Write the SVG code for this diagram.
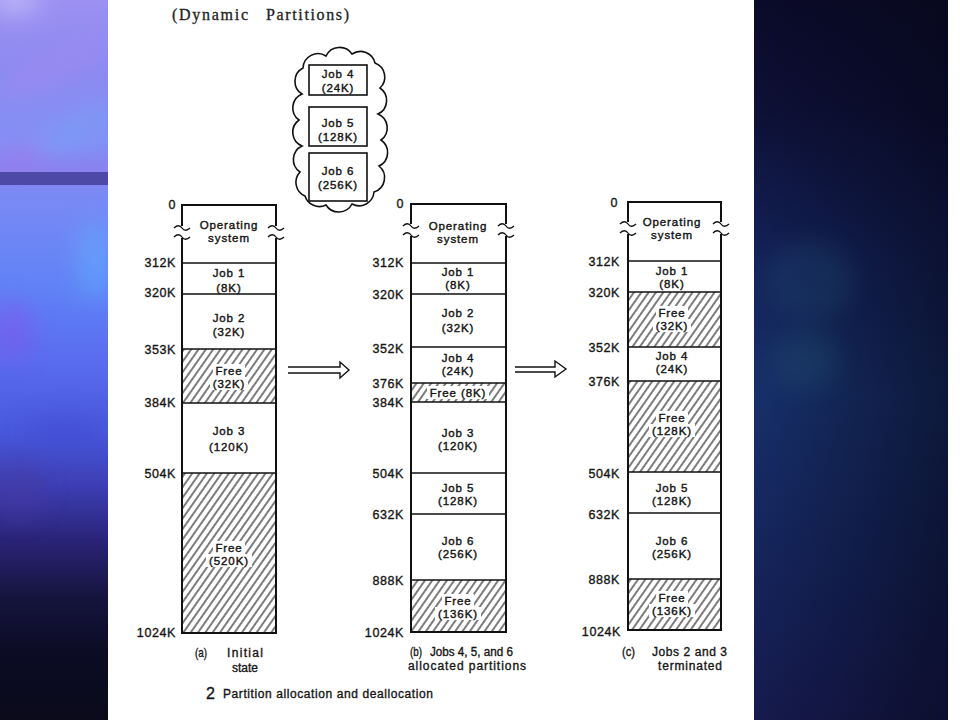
<svg xmlns="http://www.w3.org/2000/svg" width="960" height="720" viewBox="0 0 960 720">
<style>
.edge{fill:none;stroke:#111;stroke-width:2}
.part{fill:none;stroke:#111;stroke-width:1.5}
.brk{fill:none;stroke:#111;stroke-width:1.3}
.box{fill:#fff;stroke:#111;stroke-width:1.6}
.t{font-family:"Liberation Sans",Arial,sans-serif;font-size:11.5px;letter-spacing:0.9px;fill:#151515;stroke:#151515;stroke-width:0.4;text-anchor:middle}
.l{font-family:"Liberation Sans",Arial,sans-serif;font-size:12.5px;letter-spacing:0.6px;fill:#151515;stroke:#151515;stroke-width:0.35;text-anchor:end}
.c{font-family:"Liberation Sans",Arial,sans-serif;font-size:12px;fill:#151515;stroke:#151515;stroke-width:0.35}
.ttl{font-family:"Liberation Serif","Times New Roman",serif;font-size:16px;fill:#222;stroke:#222;stroke-width:0.3}
.hb{fill:#fff}
.ar{fill:#fff;stroke:#111;stroke-width:1.4}
</style>
<defs>
<pattern id="hatch" width="6" height="10" patternUnits="userSpaceOnUse" patternTransform="rotate(35)">
<rect width="6" height="10" fill="#fff"/>
<line x1="3" y1="0" x2="3" y2="10" stroke="#111" stroke-width="1.1"/>
</pattern>
<linearGradient id="lg" x1="0" y1="0" x2="0" y2="1">
<stop offset="0" stop-color="#9c90f2"/>
<stop offset="0.1" stop-color="#8c8af0"/>
<stop offset="0.2" stop-color="#8290f4"/>
<stop offset="0.24" stop-color="#8a80ee"/>
<stop offset="0.27" stop-color="#7a8af4"/>
<stop offset="0.4" stop-color="#6082f6"/>
<stop offset="0.5" stop-color="#5a6cf0"/>
<stop offset="0.6" stop-color="#4858dc"/>
<stop offset="0.68" stop-color="#3c3cb0"/>
<stop offset="0.75" stop-color="#2a2478"/>
<stop offset="0.83" stop-color="#16143e"/>
<stop offset="0.9" stop-color="#0c0c26"/>
<stop offset="1" stop-color="#0a0a1a"/>
</linearGradient>
<linearGradient id="rg" x1="0" y1="0" x2="0" y2="1">
<stop offset="0" stop-color="#0b0b2a"/>
<stop offset="0.15" stop-color="#0d1036"/>
<stop offset="0.35" stop-color="#132158"/>
<stop offset="0.55" stop-color="#17306a"/>
<stop offset="0.75" stop-color="#15265e"/>
<stop offset="1" stop-color="#161a4e"/>
</linearGradient>
<linearGradient id="rh" x1="0" y1="0" x2="1" y2="0">
<stop offset="0" stop-color="#050514" stop-opacity="0"/>
<stop offset="1" stop-color="#050514" stop-opacity="0.55"/>
</linearGradient>
<filter id="blur" x="-100%" y="-100%" width="300%" height="300%"><feGaussianBlur stdDeviation="12"/></filter>
<clipPath id="clipL"><rect x="0" y="0" width="108" height="720"/></clipPath>
<clipPath id="clipR"><rect x="754" y="0" width="194" height="720"/></clipPath>
</defs>

<!-- background panels -->
<rect x="0" y="0" width="960" height="720" fill="#fff"/>
<g id="left-panel" clip-path="url(#clipL)">
<rect x="0" y="0" width="108" height="720" fill="url(#lg)"/>
<g filter="url(#blur)" opacity="0.45">
<ellipse cx="15" cy="0" rx="25" ry="14" fill="#e8e4ff"/>
<ellipse cx="50" cy="70" rx="55" ry="10" fill="#b08af2" transform="rotate(-25 50 70)"/>
<ellipse cx="75" cy="130" rx="45" ry="9" fill="#70b0fa" transform="rotate(-30 75 130)"/>
<ellipse cx="20" cy="155" rx="30" ry="10" fill="#b070e8"/>
<ellipse cx="95" cy="260" rx="18" ry="40" fill="#60b8ff"/>
<ellipse cx="12" cy="330" rx="22" ry="30" fill="#8a50e8"/>
<ellipse cx="65" cy="430" rx="40" ry="15" fill="#3e46d0"/>
<ellipse cx="20" cy="490" rx="25" ry="30" fill="#4a3aa0"/>
</g>
<rect x="0" y="172" width="108" height="13" fill="#4c4aa6"/>
</g>
<g id="right-panel" clip-path="url(#clipR)">
<rect x="754" y="0" width="194" height="720" fill="url(#rg)"/>
<rect x="754" y="0" width="194" height="720" fill="url(#rh)"/>
<g filter="url(#blur)" opacity="0.18">
<ellipse cx="810" cy="280" rx="45" ry="40" fill="#2a6a8a"/>
<ellipse cx="805" cy="360" rx="35" ry="30" fill="#2a7a8a"/>
</g>
<rect x="948" y="0" width="12" height="720" fill="#040a04"/>
</g>

<!-- title -->
<text class="ttl" x="172" y="20" textLength="76" lengthAdjust="spacing">(Dynamic</text>
<text class="ttl" x="266" y="20" textLength="83" lengthAdjust="spacing">Partitions)</text>

<!-- cloud of waiting jobs -->
<g id="cloud">
<path class="box" d="M303,68 A15,15 0 0 1 326,56 A15,15 0 0 1 352,54 A15,15 0 0 1 375,63 A15,15 0 0 1 380,88 A15,15 0 0 1 378,114 A15,15 0 0 1 381,140 A15,15 0 0 1 379,166 A15,15 0 0 1 374,192 A15,15 0 0 1 352,204 A15,15 0 0 1 326,205 A15,15 0 0 1 305,196 A15,15 0 0 1 300,172 A15,15 0 0 1 302,146 A15,15 0 0 1 299,120 A15,15 0 0 1 302,94 A15,15 0 0 1 303,68 Z"/>
<g id="job4">
<rect class="box" x="309" y="65" width="58" height="30"/>
<text class="t"><tspan x="338" y="77.5">Job 4</tspan><tspan x="338" y="91.5">(24K)</tspan></text>
</g>
<g id="job5">
<rect class="box" x="309" y="107" width="58" height="39"/>
<text class="t"><tspan x="338" y="126.5">Job 5</tspan><tspan x="338" y="140.5">(128K)</tspan></text>
</g>
<g id="job6">
<rect class="box" x="309" y="153" width="58" height="48"/>
<text class="t"><tspan x="338" y="175">Job 6</tspan><tspan x="338" y="189">(256K)</tspan></text>
</g>
</g>

<!-- column (a) -->
<g id="col-a">
<rect x="182" y="349" width="94" height="54" fill="url(#hatch)"/>
<rect x="182" y="473" width="94" height="160" fill="url(#hatch)"/>
<path class="part" d="M182,263H276 M182,294H276 M182,349H276 M182,403H276 M182,473H276"/>
<path class="edge" d="M182,226V205H276V226 M182,238V633H276V238"/>
<path class="brk" d="M174,228c3,-3 6,-3 8,0s5,3 8,0 M174,237c3,-3 6,-3 8,0s5,3 8,0 M268,228c3,-3 6,-3 8,0s5,3 8,0 M268,237c3,-3 6,-3 8,0s5,3 8,0"/>
<rect class="hb" x="213" y="364" width="32" height="13"/>
<rect class="hb" x="210" y="377" width="38" height="13"/>
<rect class="hb" x="213" y="541" width="32" height="13"/>
<rect class="hb" x="206" y="554" width="46" height="13"/>
<text class="t"><tspan x="229" y="228.5">Operating</tspan><tspan x="229" y="241.5">system</tspan></text>
<text class="t"><tspan x="229" y="276.5">Job 1</tspan><tspan x="229" y="291.5">(8K)</tspan></text>
<text class="t"><tspan x="229" y="321.5">Job 2</tspan><tspan x="229" y="335.5">(32K)</tspan></text>
<text class="t"><tspan x="229" y="374.5">Free</tspan><tspan x="229" y="387.5">(32K)</tspan></text>
<text class="t"><tspan x="229" y="434.5">Job 3</tspan><tspan x="229" y="450.5">(120K)</tspan></text>
<text class="t"><tspan x="229" y="551.5">Free</tspan><tspan x="229" y="564.5">(520K)</tspan></text>
<text class="l" x="176" y="209">0</text>
<text class="l" x="176" y="266.5">312K</text>
<text class="l" x="176" y="296.5">320K</text>
<text class="l" x="176" y="353.5">353K</text>
<text class="l" x="176" y="406.5">384K</text>
<text class="l" x="176" y="477.5">504K</text>
<text class="l" x="176" y="636.5">1024K</text>
<text class="c" x="195" y="657" textLength="12" lengthAdjust="spacingAndGlyphs">(a)</text>
<text class="c"><tspan x="227" y="657" textLength="36" lengthAdjust="spacing">Initial</tspan><tspan x="232" y="672" textLength="26" lengthAdjust="spacing">state</tspan></text>
</g>

<!-- column (b) -->
<g id="col-b">
<rect x="411" y="383" width="95" height="19" fill="url(#hatch)"/>
<rect x="411" y="580" width="95" height="52" fill="url(#hatch)"/>
<path class="part" d="M411,263H506 M411,294H506 M411,347H506 M411,383H506 M411,402H506 M411,473H506 M411,514H506 M411,580H506"/>
<path class="edge" d="M411,224V204H506V224 M411,236V632H506V236"/>
<path class="brk" d="M403,226c3,-3 6,-3 8,0s5,3 8,0 M403,235c3,-3 6,-3 8,0s5,3 8,0 M498,226c3,-3 6,-3 8,0s5,3 8,0 M498,235c3,-3 6,-3 8,0s5,3 8,0"/>
<rect class="hb" x="427" y="386" width="62" height="13"/>
<rect class="hb" x="442" y="594" width="32" height="13"/>
<rect class="hb" x="435" y="607" width="46" height="13"/>
<text class="t"><tspan x="458" y="229.5">Operating</tspan><tspan x="458" y="242.5">system</tspan></text>
<text class="t"><tspan x="458" y="275.5">Job 1</tspan><tspan x="458" y="288.5">(8K)</tspan></text>
<text class="t"><tspan x="458" y="316.5">Job 2</tspan><tspan x="458" y="331.5">(32K)</tspan></text>
<text class="t"><tspan x="458" y="361.5">Job 4</tspan><tspan x="458" y="374.5">(24K)</tspan></text>
<text class="t" x="458" y="396.5">Free (8K)</text>
<text class="t"><tspan x="458" y="436.5">Job 3</tspan><tspan x="458" y="449.5">(120K)</tspan></text>
<text class="t"><tspan x="458" y="491.5">Job 5</tspan><tspan x="458" y="504.5">(128K)</tspan></text>
<text class="t"><tspan x="458" y="544.5">Job 6</tspan><tspan x="458" y="557.5">(256K)</tspan></text>
<text class="t"><tspan x="458" y="604.5">Free</tspan><tspan x="458" y="617.5">(136K)</tspan></text>
<text class="l" x="404" y="208">0</text>
<text class="l" x="404" y="266.5">312K</text>
<text class="l" x="404" y="298.5">320K</text>
<text class="l" x="404" y="352.5">352K</text>
<text class="l" x="404" y="387.5">376K</text>
<text class="l" x="404" y="406.5">384K</text>
<text class="l" x="404" y="477.5">504K</text>
<text class="l" x="404" y="518.5">632K</text>
<text class="l" x="404" y="584.5">888K</text>
<text class="l" x="404" y="637">1024K</text>
<text class="c" x="410" y="656" textLength="12" lengthAdjust="spacingAndGlyphs">(b)</text>
<text class="c"><tspan x="430" y="656" textLength="83" lengthAdjust="spacingAndGlyphs">Jobs 4, 5, and 6</tspan><tspan x="408" y="670" textLength="118" lengthAdjust="spacing">allocated partitions</tspan></text>
</g>

<!-- column (c) -->
<g id="col-c">
<rect x="628" y="292" width="93" height="55" fill="url(#hatch)"/>
<rect x="628" y="381" width="93" height="91" fill="url(#hatch)"/>
<rect x="628" y="579" width="93" height="51" fill="url(#hatch)"/>
<path class="part" d="M628,261H721 M628,292H721 M628,347H721 M628,381H721 M628,472H721 M628,513H721 M628,579H721"/>
<path class="edge" d="M628,222V202H721V222 M628,234V630H721V234"/>
<path class="brk" d="M620,224c3,-3 6,-3 8,0s5,3 8,0 M620,233c3,-3 6,-3 8,0s5,3 8,0 M713,224c3,-3 6,-3 8,0s5,3 8,0 M713,233c3,-3 6,-3 8,0s5,3 8,0"/>
<rect class="hb" x="656" y="306" width="32" height="13"/>
<rect class="hb" x="653" y="319" width="38" height="13"/>
<rect class="hb" x="656" y="411" width="32" height="13"/>
<rect class="hb" x="649" y="424" width="46" height="13"/>
<rect class="hb" x="656" y="591" width="32" height="13"/>
<rect class="hb" x="649" y="604" width="46" height="13"/>
<text class="t"><tspan x="672" y="225.5">Operating</tspan><tspan x="672" y="238.5">system</tspan></text>
<text class="t"><tspan x="672" y="274.5">Job 1</tspan><tspan x="672" y="287.5">(8K)</tspan></text>
<text class="t"><tspan x="672" y="316.5">Free</tspan><tspan x="672" y="329.5">(32K)</tspan></text>
<text class="t"><tspan x="672" y="359.5">Job 4</tspan><tspan x="672" y="372.5">(24K)</tspan></text>
<text class="t"><tspan x="672" y="421.5">Free</tspan><tspan x="672" y="434.5">(128K)</tspan></text>
<text class="t"><tspan x="672" y="491.5">Job 5</tspan><tspan x="672" y="504.5">(128K)</tspan></text>
<text class="t"><tspan x="672" y="544.5">Job 6</tspan><tspan x="672" y="557.5">(256K)</tspan></text>
<text class="t"><tspan x="672" y="601.5">Free</tspan><tspan x="672" y="614.5">(136K)</tspan></text>
<text class="l" x="618" y="207">0</text>
<text class="l" x="620" y="265.5">312K</text>
<text class="l" x="620" y="296.5">320K</text>
<text class="l" x="620" y="351.5">352K</text>
<text class="l" x="620" y="385.5">376K</text>
<text class="l" x="620" y="477.5">504K</text>
<text class="l" x="620" y="518.5">632K</text>
<text class="l" x="620" y="583.5">888K</text>
<text class="l" x="621" y="635.5">1024K</text>
<text class="c" x="622" y="656" textLength="13" lengthAdjust="spacingAndGlyphs">(c)</text>
<text class="c"><tspan x="652" y="656" textLength="75" lengthAdjust="spacing">Jobs 2 and 3</tspan><tspan x="658" y="670" textLength="64" lengthAdjust="spacing">terminated</tspan></text>
</g>

<!-- connectors -->
<g id="connectors">
<path class="ar" d="M288,367H340V362L349,370L340,378V373H288"/>
<path class="ar" d="M515,367H555V361L566,369L555,377V372H515"/>
</g>

<!-- figure caption -->
<text class="c" x="206" y="699" style="font-size:16px">2</text>
<text class="c" x="223" y="698" textLength="210" lengthAdjust="spacing">Partition allocation and deallocation</text>
</svg>
